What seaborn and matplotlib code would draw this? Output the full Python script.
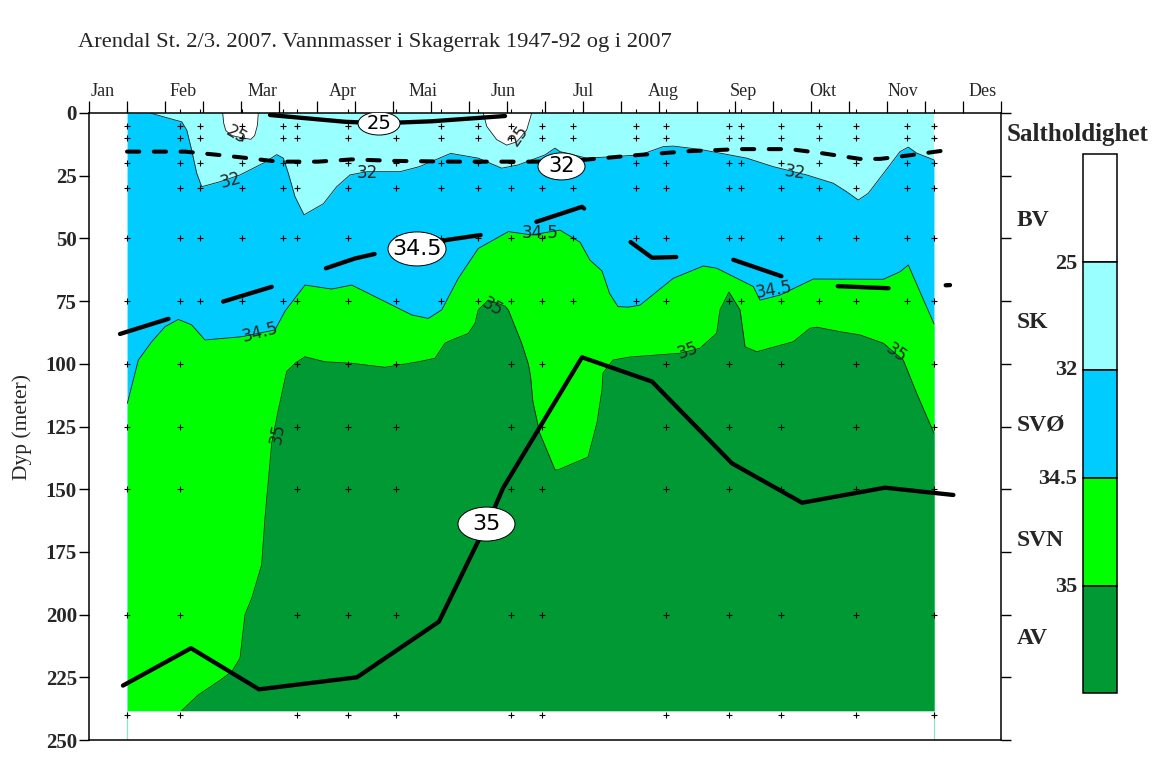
import numpy as np
import matplotlib
matplotlib.use("Agg")
import matplotlib.pyplot as plt
import seaborn as sns
from matplotlib.patches import Ellipse

# ---------------- data ----------------
months = ["Jan", "Feb", "Mar", "Apr", "Mai", "Jun", "Jul", "Aug", "Sep", "Okt", "Nov", "Des"]
title = "Arendal St. 2/3. 2007. Vannmasser i Skagerrak 1947-92 og i 2007"

# sampling stations (x in months from 1 Jan)
station_x = [0.504, 1.197, 1.461, 2.009, 2.549, 2.741, 3.404, 4.036, 4.628, 5.122, 5.549,
             5.964, 6.372, 7.197, 7.592, 8.421, 8.579, 9.105, 9.605, 10.096, 10.759, 11.118]
station_deep = [1, 1, 0, 0, 0, 1, 1, 1, 0, 0, 1, 1, 0, 0, 1, 1, 0, 1, 0, 1, 0, 1]
shallow_depths = [5, 10, 20, 30, 50, 75]
deep_depths = [5, 10, 20, 30, 50, 75, 100, 125, 150, 200, 240]
section_bottom = 238.3

# 2007 isohalines (boundaries of the coloured fields)
bv1_x = [1.759, 1.772, 1.800, 1.880, 2.000, 2.130, 2.180, 2.215, 2.228]
bv1_d = [0, 4, 7, 9, 9.8, 10.5, 9, 5, 0]
bv2_x = [5.188, 5.233, 5.364, 5.496, 5.628, 5.759, 5.825]
bv2_d = [0, 5.3, 10.6, 12.8, 11.5, 6.8, 0]

s32_x = [0.504, 0.803, 1.132, 1.220, 1.286, 1.351, 1.417, 1.483, 1.724, 1.987, 2.293, 2.470,
         2.557, 2.622, 2.711, 2.829, 3.083, 3.259, 3.434, 3.654, 4.092, 4.346, 4.759, 5.122,
         5.430, 5.648, 6.000, 6.132, 6.197, 6.549, 6.899, 7.250, 7.557, 7.688, 8.039, 8.391,
         8.654, 9.004, 9.443, 9.793, 9.970, 10.122, 10.254, 10.539, 10.671, 10.780, 10.891, 11.118]
s32_d = [0, 0, 2.8, 3.5, 6.8, 14.8, 24, 29.4, 27.4, 24.7, 20, 16.6,
         18, 24, 33.4, 40.6, 36.2, 29.4, 24.7, 23.4, 23.4, 21.4, 16.1, 18,
         22, 20.7, 16.7, 14.0, 15.4, 18, 17.4, 16.7, 13.4, 13.2, 14.5, 16.5,
         18, 21.4, 24.7, 28, 31.4, 34.7, 32, 20.7, 15.4, 13.6, 16, 18.7]

s345_x = [0.504, 0.649, 0.825, 1.000, 1.175, 1.351, 1.526, 2.009, 2.447, 2.579, 2.842, 3.193,
          3.457, 3.895, 4.246, 4.464, 4.641, 4.859, 5.122, 5.517, 5.825, 6.197, 6.461, 6.590,
          6.750, 6.850, 6.960, 7.100, 7.250, 7.688, 8.083, 8.259, 8.741, 8.829, 9.092, 9.530,
          10.451, 10.671, 10.780, 10.934, 11.118]
s345_d = [115.8, 98.5, 91.2, 85.2, 82.3, 84.5, 90.5, 89.2, 86.5, 79, 68.6, 70.2,
          68.6, 75.2, 80.5, 81.9, 78.5, 65.9, 54, 47.3, 48.6, 46.7, 51.5, 58.6,
          63, 72, 77.2, 77.4, 76.6, 65.9, 61, 61.9, 69.2, 74.6, 72.6, 66.2,
          66.3, 63.3, 60.6, 71.3, 84]

s35_x = [1.220, 1.438, 1.701, 1.878, 1.987, 2.053, 2.141, 2.272, 2.316, 2.404, 2.491, 2.601,
         2.711, 2.842, 3.105, 3.457, 3.895, 4.333, 4.553, 4.684, 4.772, 4.991, 5.079, 5.122,
         5.254, 5.474, 5.517, 5.693, 5.780, 5.810, 5.840, 5.930, 6.132, 6.171, 6.566, 6.684,
         6.750, 6.763, 6.895, 7.118, 7.776, 8.039, 8.259, 8.303, 8.421, 8.566, 8.632, 8.786,
         9.267, 9.487, 9.575, 9.882, 10.145, 10.451, 10.714, 10.891, 11.118]
s35_d = [238.3, 232, 226.7, 222.8, 217.4, 200, 193.5, 180.2, 161.3, 131.7, 118.4, 103.1,
         99.8, 97.2, 99.2, 99.8, 101.4, 99.2, 97.8, 91.8, 90.5, 87.9, 83.9, 78.5,
         74.6, 77, 78.5, 91.8, 100, 105, 115, 127.6, 142.3, 142.3, 137.2, 123.6,
         110.4, 103.7, 98.5, 97.3, 95.8, 93.8, 87.8, 78.5, 71.4, 78.5, 93.2, 95.2,
         91.2, 85.8, 85.4, 87.2, 88.5, 91.8, 98.5, 111.8, 127.7]

# 1947-92 mean isohalines
m25_x = [2.382, 3.368, 3.829, 4.513, 5.474]
m25_d = [0.8, 3.5, 4.1, 3.3, 1.2]
m32_x = [0.500, 1.263, 1.697, 2.092, 2.487, 3.013, 3.461, 4.026, 4.776, 6.000, 6.500, 7.250,
         7.908, 8.566, 9.224, 9.658, 10.145, 10.408, 10.763, 11.289]
m32_d = [15.4, 15.4, 16.7, 18, 19.4, 19.4, 18.5, 19.1, 19.4, 19.4, 18.7, 16.7,
         15.2, 14.4, 14.4, 16.1, 18.3, 18.3, 17, 14.8]
m345_x = [0.408, 1.105, 1.763, 2.461, 3.118, 3.500, 3.803, 4.316, 4.711, 5.211, 5.895, 6.487,
          6.553, 7.105, 7.408, 7.750, 8.447, 9.132, 9.816, 10.539, 11.329]
m345_d = [88.1, 81.5, 75.2, 68.8, 61.9, 58, 55.9, 54.2, 50.6, 48.4, 43.3, 37.4,
          39, 51, 57.7, 57.4, 58.2, 65.3, 69, 69.9, 68.6]
m35_x = [0.447, 1.342, 2.237, 3.526, 4.605, 5.118, 5.237, 5.342, 5.447, 6.487, 7.408,
         8.461, 9.382, 10.474, 11.373]
m35_d = [228.3, 213.4, 229.8, 225, 202.8, 170.9, 164, 157, 149.6, 97.4, 107.1,
         139.7, 155.4, 149.4, 152.3]

# legend
mass_names = ["BV", "SK", "SVØ", "SVN", "AV"]
limit_labels = ["25", "32", "34.5", "35"]
mass_colors = ["#FFFFFF", "#99FFFF", "#00CCFF", "#00FF00", "#009933"]

# ---------------- style ----------------
sns.set_style("white")
plt.rcParams["font.family"] = ["Liberation Serif", "DejaVu Sans"]
SANS = ["DejaVu Sans"]

W, H = 1159, 774
fig = plt.figure(figsize=(W / 100, H / 100), dpi=100)
ax = fig.add_axes([89 / W, 1 - 740 / H, 912 / W, 627 / H])
ax.set_xlim(0, 12)
ax.set_ylim(250, 0)

# filled fields
x0, x1 = station_x[0], station_x[-1]
ax.fill_between([x0, x1], 0, section_bottom, color=mass_colors[1], lw=0, zorder=1)
ax.fill_between(s32_x, s32_d, section_bottom, color=mass_colors[2], lw=0, zorder=1.1)
ax.fill_between(s345_x, s345_d, section_bottom, color=mass_colors[3], lw=0, zorder=1.2)
ax.fill_between(s35_x, s35_d, section_bottom, color=mass_colors[4], lw=0, zorder=1.3)
ax.fill_between(bv1_x, 0, bv1_d, color=mass_colors[0], lw=0, zorder=1.4)
ax.fill_between(bv2_x, 0, bv2_d, color=mass_colors[0], lw=0, zorder=1.4)

# thin contour outlines
oc = "#202020"
for xs, ds in [(s32_x[1:], s32_d[1:]), (s345_x, s345_d), (s35_x, s35_d),
               (bv1_x, bv1_d), (bv2_x, bv2_d)]:
    ax.plot(xs, ds, color=oc, lw=0.6, zorder=2)

# faint section edges below the filled area
for xe in (x0, x1):
    ax.plot([xe, xe], [section_bottom, 250], color="#8FE3C3", lw=0.9, zorder=1.5)

# station markers
for sx, deep in zip(station_x, station_deep):
    ds = deep_depths if deep else shallow_depths
    ax.plot([sx] * len(ds), ds, linestyle="none", marker="+", color="black",
            ms=4.5, mew=0.8, zorder=3)

# mean isohalines 1947-92
lw_thick = 3.1
sns.lineplot(x=m25_x, y=m25_d, ax=ax, color="black", lw=lw_thick, sort=False,
             estimator=None, zorder=4, solid_capstyle="round")
sns.lineplot(x=m32_x, y=m32_d, ax=ax, color="black", lw=2.9, sort=False,
             estimator=None, zorder=4, linestyle=(0, (3.05, 3.6)), dash_capstyle="round")
sns.lineplot(x=m345_x, y=m345_d, ax=ax, color="black", lw=lw_thick, sort=False,
             estimator=None, zorder=4, linestyle=(0, (11.8, 13.3)), dash_capstyle="round")
sns.lineplot(x=m35_x, y=m35_d, ax=ax, color="black", lw=lw_thick, sort=False,
             estimator=None, zorder=4, solid_capstyle="round")

# bubble labels of mean isohalines (centre month, depth, width px, height px, font)
bubbles = [("25", 3.816, 4.2, 42, 23, 14), ("32", 6.217, 21.3, 47, 27, 15),
           ("34.5", 4.316, 54.2, 58, 34, 16), ("35", 5.230, 163.9, 57, 34, 16)]
for txt, bx, by, bw, bh, fs in bubbles:
    ax.add_patch(Ellipse((bx, by), bw / 76, bh / 2.508, fc="white", ec="black",
                         lw=0.7, zorder=5))
    ax.text(bx, by, txt, ha="center", va="center", fontsize=fs, family=SANS,
            zorder=6, color="black")

# inline contour labels of 2007 isohalines (month, depth, rotation)
clabels = [("25", 1.943, 8.8, -30), ("25", 5.649, 8.8, 55),
           ("32", 1.864, 26.7, 15), ("32", 3.662, 23.8, 0), ("32", 9.290, 23.6, -8),
           ("34.5", 2.250, 87.6, 15), ("34.5", 5.934, 48.0, 0), ("34.5", 9.017, 70.6, 10),
           ("35", 2.483, 127.7, 80), ("35", 5.307, 77.2, -30), ("35", 7.886, 94.8, 20),
           ("35", 10.618, 95.8, -35)]
for txt, lx, ly, rot in clabels:
    ax.text(lx, ly, txt, ha="center", va="center", rotation=rot, fontsize=12,
            family=SANS, zorder=3.5, rotation_mode="anchor")

# axes, ticks
for sp in ax.spines.values():
    sp.set_visible(True)
    sp.set_color("black")
    sp.set_linewidth(1.1)
ax.set_xticks(np.arange(0, 12.01, 0.5))
ax.set_xticks(station_x, minor=True)
ax.tick_params(axis="x", which="major", top=True, bottom=False, direction="out",
               length=8.6, width=0.9, labeltop=False, labelbottom=False, color="black")
ax.tick_params(axis="x", which="minor", top=True, bottom=False, direction="out",
               length=2.6, width=0.8, color="black")
ax.set_yticks(range(0, 251, 25))
ax.tick_params(axis="y", which="major", left=True, right=True, direction="out",
               length=7.2, width=1.0, labelright=False, pad=1.5, color="black")
for lab in ax.get_yticklabels():
    lab.set_fontweight("bold")
    lab.set_fontsize(15)
ax.set_xlabel("")
ax.set_ylabel("")

sec = ax.secondary_xaxis("top")
label_pos = np.linspace(0.184, 11.763, 12)
sec.set_xticks(label_pos, months)
sec.tick_params(length=0, pad=9.7, labelsize=13)
sec.spines["top"].set_visible(False)

fig.text(78 / W, 1 - 43 / H, title, ha="left", va="center", fontsize=16.2)
fig.text(22 / W, 1 - 426.7 / H, "Dyp (meter)", rotation=90, ha="center", va="center",
         fontsize=15.5)

# colour legend
cax = fig.add_axes([1083 / W, 1 - 693.3 / H, 34 / W, 539 / H])
cax.set_xlim(0, 1)
cax.set_ylim(0, 5)
for i, c in enumerate(mass_colors):
    cax.bar(0.5, 1, bottom=4 - i, width=1, color=c, edgecolor="black", lw=1.1,
            clip_on=False)
cax.set_axis_off()

fig.text(1078 / W, 1 - 135 / H, "Saltholdighet", ha="center", va="center",
         fontsize=18, fontweight="bold")
name_y = [220, 322, 425, 541, 638]
for nm, yy in zip(mass_names, name_y):
    fig.text(1017 / W, 1 - yy / H, nm, ha="left", va="center", fontsize=17,
             fontweight="bold")
lim_y = [264, 370.5, 478.7, 586.5]
for lb, yy in zip(limit_labels, lim_y):
    fig.text(1077 / W, 1 - yy / H, lb, ha="right", va="center", fontsize=16,
             fontweight="bold")

fig.savefig("out.png", dpi=100)
